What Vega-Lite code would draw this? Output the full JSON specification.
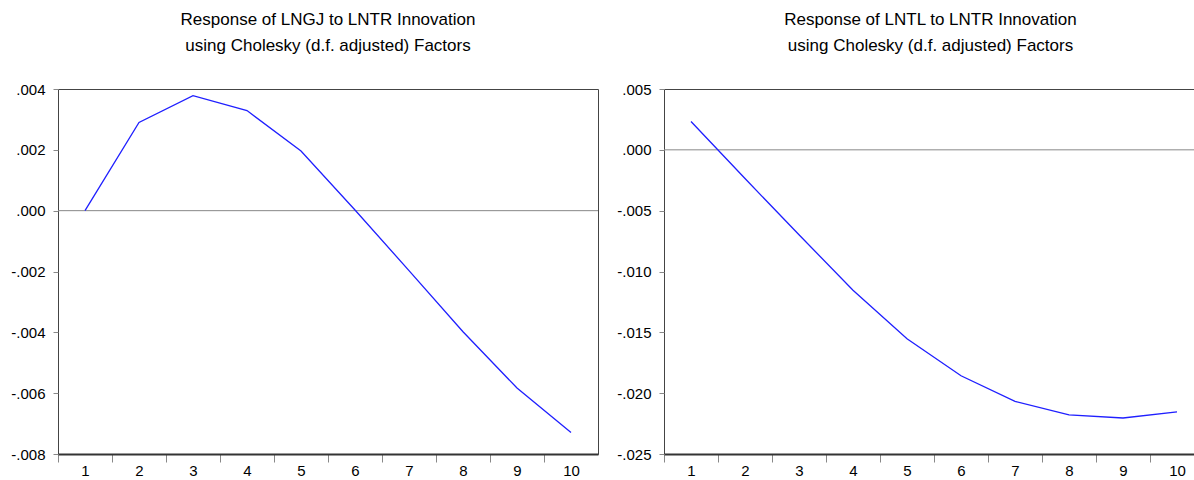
{
  "$schema": "https://vega.github.io/schema/vega-lite/v6.json",
  "padding": {"left": 7, "top": 10, "right": 0, "bottom": 0},
  "background": "white",
  "spacing": 14,
  "data": {
    "values": [
      {"step": 1, "lngj": 0.0, "lntl": 0.00233},
      {"step": 2, "lngj": 0.0029, "lntl": -0.00236},
      {"step": 3, "lngj": 0.00378, "lntl": -0.00698},
      {"step": 4, "lngj": 0.00329, "lntl": -0.01154},
      {"step": 5, "lngj": 0.00196, "lntl": -0.01553},
      {"step": 6, "lngj": 0.00002, "lntl": -0.01857},
      {"step": 7, "lngj": -0.00197, "lntl": -0.02068},
      {"step": 8, "lngj": -0.00398, "lntl": -0.02178},
      {"step": 9, "lngj": -0.00583, "lntl": -0.02204},
      {"step": 10, "lngj": -0.00729, "lntl": -0.02153}
    ]
  },
  "config": {
    "font": "Liberation Sans",
    "view": {"stroke": "#444", "strokeWidth": 1},
    "title": {"fontSize": 17, "fontWeight": "normal", "color": "#000", "font": "Liberation Sans", "lineHeight": 26, "anchor": "middle", "offset": 27},
    "axis": {"grid": false, "labelFontSize": 15, "labelColor": "#000", "labelFont": "Liberation Sans", "tickColor": "#888", "title": null}
  },
  "hconcat": [
    {
      "width": 540,
      "height": 365,
      "title": {"text": ["Response of LNGJ to LNTR Innovation", "using Cholesky (d.f. adjusted) Factors"]},
      "layer": [
        {
          "data": {"values": [{"ref": 0}]},
          "mark": {"type": "rule", "color": "#888", "strokeWidth": 1},
          "encoding": {"y": {"field": "ref", "type": "quantitative", "scale": {"domain": [-0.008, 0.004]}}}
        },
        {
          "mark": {"type": "line", "color": "#1f1fff", "strokeWidth": 1.3},
          "encoding": {
            "x": {
              "field": "step", "type": "quantitative",
              "scale": {"domain": [0.5, 10.5], "nice": false, "zero": false},
              "axis": {
                "values": [0.5, 1, 1.5, 2, 2.5, 3, 3.5, 4, 4.5, 5, 5.5, 6, 6.5, 7, 7.5, 8, 8.5, 9, 9.5, 10],
                "labelExpr": "datum.value % 1 == 0 ? format(datum.value, 'd') : ''",
                "tickOpacity": {"condition": {"test": "datum.value % 1 == 0", "value": 0}, "value": 1},
                "tickSize": 8, "labelPadding": 1,
                "domainColor": "#333", "domainWidth": 2, "labelFlush": false, "labelOverlap": false
              }
            },
            "y": {
              "field": "lngj", "type": "quantitative",
              "scale": {"domain": [-0.008, 0.004], "nice": false, "zero": false},
              "axis": {
                "values": [-0.008, -0.006, -0.004, -0.002, 0, 0.002, 0.004],
                "labelExpr": "replace(replace(format(datum.value, '.3f'), '0.', '.'), '\u2212', '-')",
                "tickSize": 5, "labelPadding": 8, "domain": false,
                "minExtent": 50, "maxExtent": 50, "labelFlush": false
              }
            }
          }
        }
      ]
    },
    {
      "width": 533,
      "height": 365,
      "title": {"text": ["Response of LNTL to LNTR Innovation", "using Cholesky (d.f. adjusted) Factors"]},
      "layer": [
        {
          "data": {"values": [{"ref": 0}]},
          "mark": {"type": "rule", "color": "#888", "strokeWidth": 1},
          "encoding": {"y": {"field": "ref", "type": "quantitative", "scale": {"domain": [-0.025, 0.005]}}}
        },
        {
          "mark": {"type": "line", "color": "#1f1fff", "strokeWidth": 1.3},
          "encoding": {
            "x": {
              "field": "step", "type": "quantitative",
              "scale": {"domain": [0.5, 10.37], "nice": false, "zero": false},
              "axis": {
                "values": [0.5, 1, 1.5, 2, 2.5, 3, 3.5, 4, 4.5, 5, 5.5, 6, 6.5, 7, 7.5, 8, 8.5, 9, 9.5, 10],
                "labelExpr": "datum.value % 1 == 0 ? format(datum.value, 'd') : ''",
                "tickOpacity": {"condition": {"test": "datum.value % 1 == 0", "value": 0}, "value": 1},
                "tickSize": 8, "labelPadding": 1,
                "domainColor": "#333", "domainWidth": 2, "labelFlush": false, "labelOverlap": false
              }
            },
            "y": {
              "field": "lntl", "type": "quantitative",
              "scale": {"domain": [-0.025, 0.005], "nice": false, "zero": false},
              "axis": {
                "values": [-0.025, -0.02, -0.015, -0.01, -0.005, 0, 0.005],
                "labelExpr": "replace(replace(format(datum.value, '.3f'), '0.', '.'), '\u2212', '-')",
                "tickSize": 5, "labelPadding": 8, "domain": false,
                "minExtent": 50, "maxExtent": 50, "labelFlush": false
              }
            }
          }
        }
      ]
    }
  ]
}
